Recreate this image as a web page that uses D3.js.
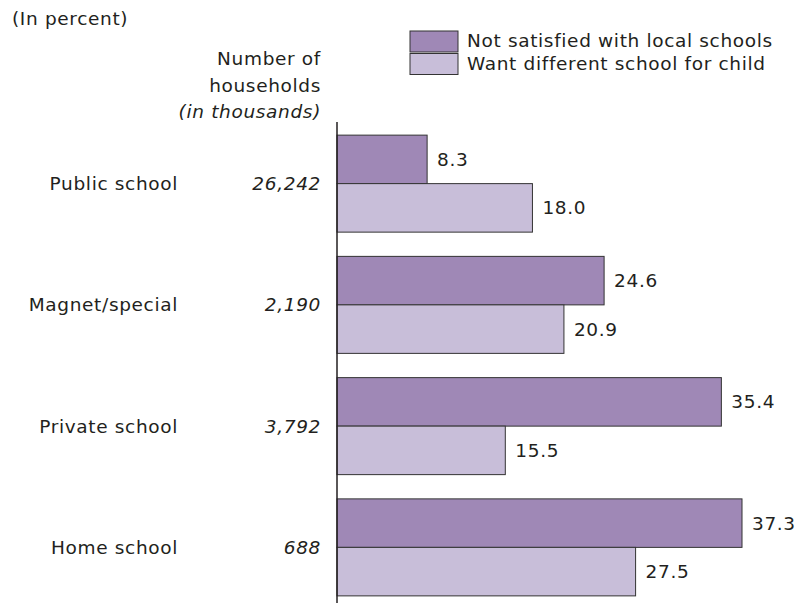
<!DOCTYPE html>
<html><head><meta charset="utf-8">
<script src="https://cdn.jsdelivr.net/npm/d3@7"></script>
<style>body{margin:0;background:#fff}svg{display:block}text{font-family:"DejaVu Sans",sans-serif;fill:#231f20;letter-spacing:0.65px}</style>
</head><body>
<script>
const categories = ["Public school","Magnet/special","Private school","Home school"];
const households = ["26,242","2,190","3,792","688"];
const notSatisfied = [8.3,24.6,35.4,37.3];
const wantDifferent = [18.0,20.9,15.5,27.5];
const seriesNames = ["Not satisfied with local schools","Want different school for child"];
const colors = ["#9f88b6","#c8bed9"];

const W=809,H=603;
const svg=d3.select("body").append("svg").attr("width",W).attr("height",H);
const x=d3.scaleLinear().domain([0,37.3]).range([337,742]);
const y=d3.scaleBand().domain(categories).range([123,608]).paddingInner(0.2).paddingOuter(0.1);
const ySub=d3.scaleBand().domain([0,1]).range([0,y.bandwidth()]);
const fs=18.5;

svg.append("text").attr("x",12).attr("y",25).attr("font-size",fs).text("(In percent)");
const hdr=[["Number of",65,"normal"],["households",92,"normal"],["(in thousands)",118,"italic"]];
hdr.forEach(h=>svg.append("text").attr("x",321).attr("y",h[1]).attr("text-anchor","end").attr("font-size",fs).attr("font-style",h[2]).text(h[0]));

// legend
seriesNames.forEach((n,i)=>{
  svg.append("rect").attr("x",410).attr("y",31+i*22.5).attr("width",48).attr("height",21).attr("fill",colors[i]).attr("stroke","#333").attr("stroke-width",1);
  svg.append("text").attr("x",467).attr("y",47+i*23).attr("font-size",fs).text(n);
});

const data=categories.map((c,i)=>({c,h:households[i],v:[notSatisfied[i],wantDifferent[i]]}));
const g=svg.append("g").selectAll("g").data(data).join("g").attr("transform",d=>`translate(0,${y(d.c)})`);
g.selectAll("rect").data(d=>d.v).join("rect")
  .attr("x",x(0)).attr("y",(d,i)=>ySub(i)).attr("width",d=>x(d)-x(0)).attr("height",ySub.bandwidth())
  .attr("fill",(d,i)=>colors[i]).attr("stroke","#333").attr("stroke-width",1);
g.selectAll("text.val").data(d=>d.v).join("text").attr("class","val")
  .attr("x",d=>x(d)+10).attr("y",(d,i)=>ySub(i)+ySub.bandwidth()/2).attr("dy","0.35em")
  .attr("font-size",fs).text(d=>d.toFixed(1));
g.append("text").attr("x",178).attr("y",y.bandwidth()/2).attr("dy","0.35em").attr("text-anchor","end").attr("font-size",fs).text(d=>d.c);
g.append("text").attr("x",321).attr("y",y.bandwidth()/2).attr("dy","0.35em").attr("text-anchor","end").attr("font-size",fs).attr("font-style","italic").text(d=>d.h);

svg.append("line").attr("x1",x(0)).attr("x2",x(0)).attr("y1",122).attr("y2",603).attr("stroke","#231f20").attr("stroke-width",1.5);
</script>
</body></html>
